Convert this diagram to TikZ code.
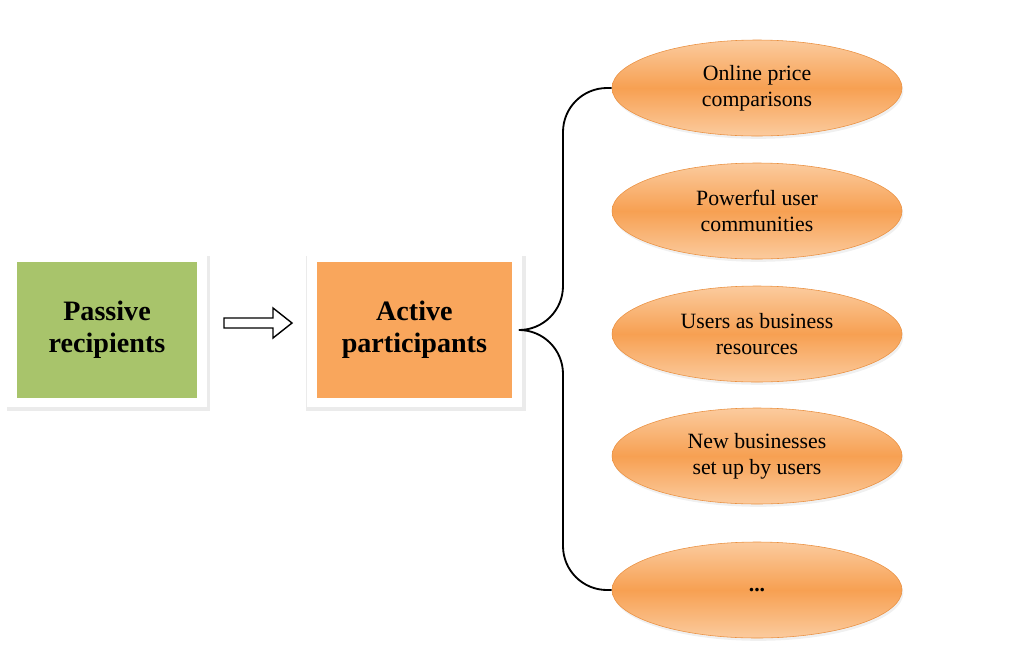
\documentclass[tikz,border=0pt]{standalone}
\usepackage{fontspec}
\setmainfont{Liberation Serif}
\usetikzlibrary{positioning, shapes.geometric, shadows}
\definecolor{G0}{RGB}{168, 196, 107}
\definecolor{O0}{RGB}{249, 166,  92}
\definecolor{O1}{RGB}{251, 203, 158}
\definecolor{O2}{RGB}{247, 160,  82}
\definecolor{O3}{RGB}{234, 144,  64}
\tikzset{
  stage/.style={
    rectangle, draw=white, line width=7pt, fill=#1,
    minimum height=3.625cm, align=center,
    font=\bfseries\fontsize{20}{23}\selectfont,
    drop shadow={opacity=0.16, shadow xshift=1pt, shadow yshift=-2.5pt, shadow scale=1.07}
  },
  item/.style={
    ellipse, draw=O3, thin,
    top color=O1, bottom color=O1, middle color=O2,
    minimum width=7.25cm, minimum height=2.4cm,
    align=center, font=\fontsize{15.5}{18.5}\selectfont,
    drop shadow={opacity=0.12, shadow xshift=1pt, shadow yshift=-2pt}
  },
  turnarrow/.style={draw=black, line width=1pt, fill=white},
  brace/.style={draw=black, line width=1.3pt, rounded corners=1.1cm},
}

\begin{document}
\begin{tikzpicture}

  \useasboundingbox (0, 0) rectangle (25.6, -16.5);

  %% ── Stage boxes ────────────────────────────────────────────────────────────

  \node[stage=G0, minimum width=4.75cm]  (pass) at ( 2.675, -8.25) {Passive\\recipients};
  \node[stage=O0, minimum width=5.125cm] (act)  at (10.36,  -8.25) {Active\\participants};

  % Outline arrow between the stages
  \coordinate (move) at (5.6, -8.075);
  \draw[turnarrow] (move) ++(0, 0.125) -- ++(1.225, 0) -- ++(0, 0.25)
    -- ++(0.475, -0.375) -- ++(-0.475, -0.375) -- ++(0, 0.25)
    -- ++(-1.225, 0) -- cycle;

  %% ── Forms of participation ─────────────────────────────────────────────────

  \node[item] (price) at (18.925,  -2.2)   {Online price\\comparisons};
  \node[item] (comm)  at (18.925,  -5.275) {Powerful user\\communities};
  \node[item] (res)   at (18.925,  -8.35)  {Users as business\\resources};
  \node[item] (newb)  at (18.925, -11.4)   {New businesses\\set up by users};
  \node[item] (more)  at (18.925, -14.75)  {\textbf{...}};

  %% ── Brace ──────────────────────────────────────────────────────────────────

  \coordinate (spine) at (14.075, -8.25);

  \draw[brace] (act.east) -| (spine |- price.west) -- (price.west);
  \draw[brace] (act.east) -| (spine |- more.west) -- (more.west);

\end{tikzpicture}
\end{document}
